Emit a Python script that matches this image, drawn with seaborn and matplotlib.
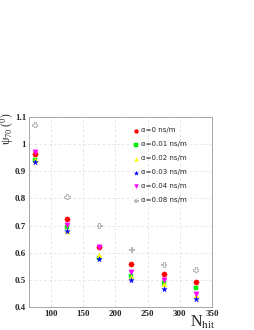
import numpy as np
import pandas as pd
import matplotlib
matplotlib.use('Agg')
import matplotlib.pyplot as plt
from matplotlib.ticker import MultipleLocator
import seaborn as sns

# data
nhit = [75, 125, 175, 225, 275, 325]
labels = ['α=0 ns/m', 'α=0.01 ns/m', 'α=0.02 ns/m', 'α=0.03 ns/m', 'α=0.04 ns/m', 'α=0.08 ns/m']
psi_a000 = [0.964, 0.726, 0.620, 0.559, 0.520, 0.492]
psi_a001 = [0.940, 0.696, 0.582, 0.515, 0.487, 0.471]
psi_a002 = [0.940, 0.679, 0.593, 0.510, 0.483, 0.444]
psi_a003 = [0.933, 0.680, 0.578, 0.500, 0.466, 0.431]
psi_a004 = [0.971, 0.701, 0.620, 0.528, 0.501, 0.447]
psi_a008 = [1.071, 0.806, 0.700, 0.612, 0.557, 0.537]

series = [psi_a000, psi_a001, psi_a002, psi_a003, psi_a004, psi_a008]
colors = ['#ff0000', '#00ee00', '#ffff00', '#0000ff', '#ff00ff', '#aaaaaa']
markers = ['o', 's', '^', '*', 'v', 'P']
sizes = [14, 12, 12, 16, 14, 14]

sns.set_style('white')
plt.rcParams['font.family'] = ['Liberation Serif', 'DejaVu Serif']
plt.rcParams['mathtext.fontset'] = 'custom'
plt.rcParams['mathtext.rm'] = 'Liberation Serif'
plt.rcParams['mathtext.it'] = 'Liberation Serif:italic'

fig = plt.figure(figsize=(2.55, 3.30), dpi=100)
ax = fig.add_axes([29/255, 1-307/330, 183/255, 190/330])

for lab, vals, c, m, s in zip(labels, series, colors, markers, sizes):
    df = pd.DataFrame({'nhit': nhit, 'psi': vals})
    if m == 'P':
        sns.scatterplot(data=df, x='nhit', y='psi', ax=ax, marker=m, s=s,
                        facecolors='none', edgecolor=c, linewidth=0.6, label=lab)
    else:
        sns.scatterplot(data=df, x='nhit', y='psi', ax=ax, marker=m, s=s,
                        color=c, edgecolor=c, linewidth=0.3, label=lab)

ax.set_xlim(66, 350)
ax.set_ylim(0.4, 1.1)
ax.xaxis.set_major_locator(MultipleLocator(50))
ax.xaxis.set_minor_locator(MultipleLocator(10))
ax.yaxis.set_major_locator(MultipleLocator(0.1))
ax.yaxis.set_minor_locator(MultipleLocator(0.02))
ax.yaxis.set_major_formatter(matplotlib.ticker.FuncFormatter(lambda v, p: ('%g' % round(v, 2))))
ax.tick_params(which='both', direction='in', top=False, right=False, labelsize=6.5, pad=2)
ax.tick_params(which='major', length=5, width=0.5)
ax.tick_params(which='minor', length=2.5, width=0.5)
for t in ax.get_xticklabels() + ax.get_yticklabels():
    t.set_fontweight('bold')
ax.grid(True, which='major', ls=(0, (4, 3)), lw=0.5, color='#dddddd')
for sp in ax.spines.values():
    sp.set_linewidth(0.6)
    sp.set_color('#999999')

ax.set_xlabel('N$_{\\mathrm{hit}}$', fontsize=11.5)
ax.xaxis.set_label_coords(0.95, -0.035)
ax.set_ylabel('ψ$_{70}$ ($^{0}$)', fontsize=8.5)
ax.yaxis.set_label_coords(-0.07, 0.94)

leg = ax.legend(loc='upper left', bbox_to_anchor=(0.545, 0.96), frameon=False,
                prop={'family': 'DejaVu Sans', 'size': 5}, handletextpad=0.2,
                labelspacing=1.15, borderaxespad=0, handlelength=1.2,
                markerscale=0.75)

fig.savefig('out.png', dpi=100)
